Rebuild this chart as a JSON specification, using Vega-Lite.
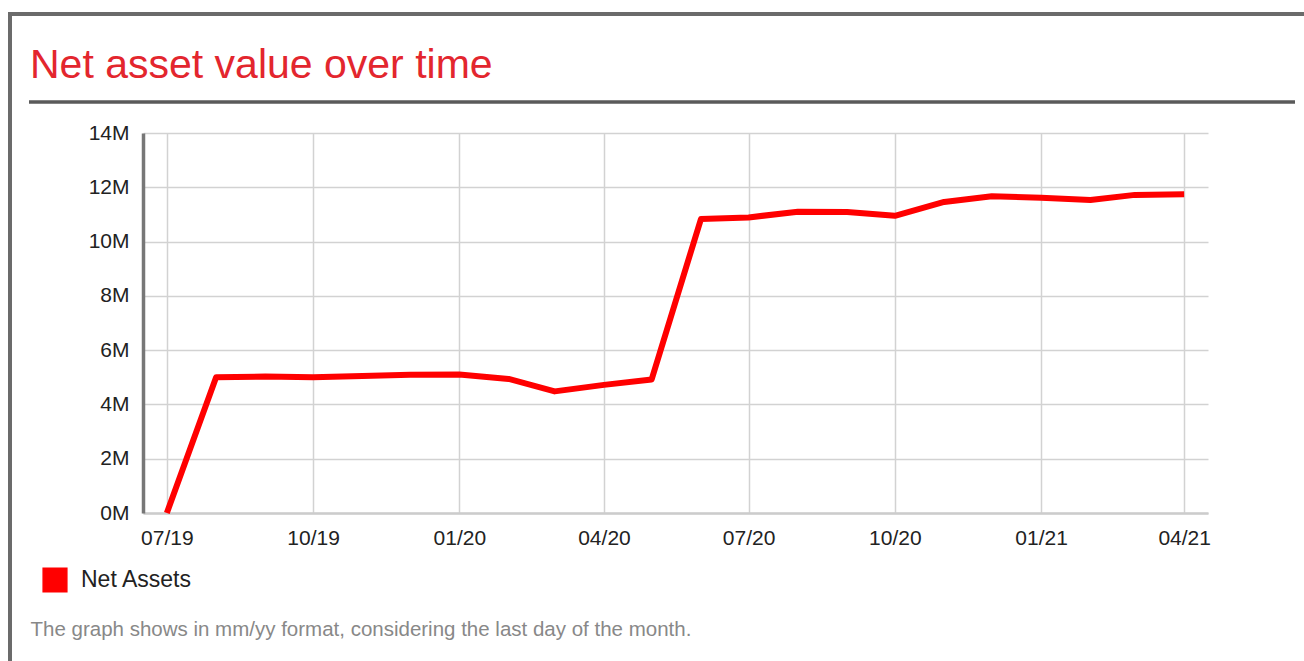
{
  "$schema": "https://vega.github.io/schema/vega-lite/v6.json",
  "width": 1065,
  "height": 380,
  "autosize": {"type": "none"},
  "padding": {"left": 143, "top": 133, "right": 96, "bottom": 148},
  "background": "#ffffff",
  "config": {
    "view": {"stroke": null},
    "font": "Liberation Sans"
  },
  "title": {
    "text": "Net asset value over time",
    "anchor": "start",
    "frame": "group",
    "dx": -113,
    "baseline": "alphabetic",
    "offset": -109,
    "fontSize": 41,
    "font": "Liberation Sans",
    "fontWeight": "normal",
    "color": "#e3262e"
  },
  "layer": [
    {
      "data": {"values": [{"part": "frame"}]},
      "mark": {"type": "rule", "stroke": "#6b6b6b", "strokeWidth": 4, "clip": false},
      "encoding": {
        "x": {"value": -133},
        "x2": {"value": 1170},
        "y": {"value": -119},
        "y2": {"value": -119}
      }
    },
    {
      "data": {"values": [{"part": "frame"}]},
      "mark": {"type": "rule", "stroke": "#6b6b6b", "strokeWidth": 4, "clip": false},
      "encoding": {
        "x": {"value": -133},
        "x2": {"value": -133},
        "y": {"value": -121},
        "y2": {"value": 540}
      }
    },
    {
      "data": {"values": [{"part": "underline"}]},
      "mark": {"type": "rule", "stroke": "#5a5a5a", "strokeWidth": 3.5, "clip": false},
      "encoding": {
        "x": {"value": -114},
        "x2": {"value": 1152},
        "y": {"value": -31},
        "y2": {"value": -31}
      }
    },
    {
      "data": {
        "values": [
          {"date": "2019-07-01", "value": 0},
          {"date": "2019-08-01", "value": 5000000},
          {"date": "2019-09-01", "value": 5030000},
          {"date": "2019-10-01", "value": 5000000},
          {"date": "2019-11-01", "value": 5050000},
          {"date": "2019-12-01", "value": 5090000},
          {"date": "2020-01-01", "value": 5100000},
          {"date": "2020-02-01", "value": 4940000},
          {"date": "2020-03-01", "value": 4480000},
          {"date": "2020-04-01", "value": 4720000},
          {"date": "2020-05-01", "value": 4920000},
          {"date": "2020-06-01", "value": 10830000},
          {"date": "2020-07-01", "value": 10890000},
          {"date": "2020-08-01", "value": 11100000},
          {"date": "2020-09-01", "value": 11090000},
          {"date": "2020-10-01", "value": 10950000},
          {"date": "2020-11-01", "value": 11460000},
          {"date": "2020-12-01", "value": 11670000},
          {"date": "2021-01-01", "value": 11610000},
          {"date": "2021-02-01", "value": 11530000},
          {"date": "2021-03-01", "value": 11720000},
          {"date": "2021-04-01", "value": 11740000}
        ],
        "format": {"parse": {"date": "date:'%Y-%m-%d'"}}
      },
      "mark": {"type": "line", "strokeWidth": 6, "strokeJoin": "round", "strokeCap": "butt", "clip": false},
      "encoding": {
        "x": {
          "field": "date",
          "type": "temporal",
          "scale": {
            "domain": [
              {"year": 2019, "month": 6, "date": 16},
              {"year": 2021, "month": 4, "date": 16}
            ]
          },
          "axis": {
            "values": [
              {"year": 2019, "month": 7, "date": 1},
              {"year": 2019, "month": 10, "date": 1},
              {"year": 2020, "month": 1, "date": 1},
              {"year": 2020, "month": 4, "date": 1},
              {"year": 2020, "month": 7, "date": 1},
              {"year": 2020, "month": 10, "date": 1},
              {"year": 2021, "month": 1, "date": 1},
              {"year": 2021, "month": 4, "date": 1}
            ],
            "format": "%m/%y",
            "labelFont": "Liberation Sans",
            "labelFontSize": 21,
            "labelColor": "#222222",
            "labelPadding": 14,
            "labelBaseline": "top",
            "labelFlush": false,
            "labelOverlap": false,
            "ticks": false,
            "grid": true,
            "gridColor": "#d2d2d2",
            "gridWidth": 1.5,
            "domainColor": "#cccccc",
            "domainWidth": 2.5,
            "title": "The graph shows in mm/yy format, considering the last day of the month.",
            "titleFont": "Liberation Sans",
            "titleFontSize": 20.5,
            "titleFontWeight": "normal",
            "titleColor": "#888888",
            "titleAnchor": "start",
            "titleAlign": "left",
            "titleBaseline": "alphabetic",
            "titleX": -113,
            "titleY": 122
          }
        },
        "y": {
          "field": "value",
          "type": "quantitative",
          "scale": {"domain": [0, 14000000]},
          "axis": {
            "values": [0, 2000000, 4000000, 6000000, 8000000, 10000000, 12000000, 14000000],
            "labelExpr": "(datum.value / 1000000) + 'M'",
            "labelFont": "Liberation Sans",
            "labelFontSize": 21,
            "labelColor": "#222222",
            "labelPadding": 14,
            "ticks": false,
            "grid": true,
            "gridColor": "#d2d2d2",
            "gridWidth": 1.5,
            "domainColor": "#777777",
            "domainWidth": 3.5,
            "title": null
          }
        },
        "color": {
          "datum": "Net Assets",
          "type": "nominal",
          "scale": {"range": ["#ff0000"]},
          "legend": {
            "title": null,
            "orient": "none",
            "legendX": -101,
            "legendY": 434,
            "symbolType": "square",
            "symbolSize": 560,
            "symbolStrokeColor": "#555555",
            "symbolStrokeWidth": 1.5,
            "labelFont": "Liberation Sans",
            "labelFontSize": 23,
            "labelColor": "#222222",
            "labelOffset": 13,
            "encode": {
              "symbols": {
                "update": {
                  "fill": {"value": "#ff0000"},
                  "stroke": {"value": "#555555"},
                  "strokeWidth": {"value": 1.5},
                  "opacity": {"value": 1}
                }
              }
            }
          }
        }
      }
    }
  ]
}
